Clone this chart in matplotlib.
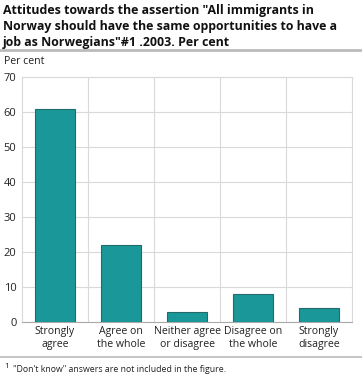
import matplotlib
matplotlib.use('Agg')
import matplotlib.pyplot as plt
from matplotlib.lines import Line2D

categories = ['Strongly\nagree', 'Agree on\nthe whole', 'Neither agree\nor disagree',
              'Disagree on\nthe whole', 'Strongly\ndisagree']
values = [61, 22, 3, 8, 4]
yticks = [0, 10, 20, 30, 40, 50, 60, 70]

plt.rcParams['font.family'] = ['Open Sans', 'DejaVu Sans']

W, H = 362, 378
fig = plt.figure(figsize=(W / 100, H / 100), dpi=100)
ax = fig.add_axes([22 / W, 1 - 322 / H, 330 / W, 245 / H])

x = range(len(values))
ax.bar(x, values, width=0.6, color='#1a9899', edgecolor='#236b6b', linewidth=0.8, zorder=3)

ax.set_xlim(-0.5, len(values) - 0.5)
ax.set_ylim(0, 70)
ax.set_yticks(yticks)
ax.set_xticks(list(x))
ax.set_xticklabels(categories, fontsize=7.6, color='#222222', linespacing=1.25)
ax.tick_params(axis='y', labelsize=8, colors='#222222', length=0, pad=4)
ax.tick_params(axis='x', length=0, pad=3)

ax.grid(axis='y', color='#d9d9d9', linewidth=0.8, zorder=0)
for i in range(1, len(values)):
    ax.axvline(i - 0.5, color='#d9d9d9', linewidth=0.8, zorder=0)
for side in ['top', 'right']:
    ax.spines[side].set_color('#d9d9d9')
    ax.spines[side].set_linewidth(0.8)
ax.spines['left'].set_color('#d9d9d9')
ax.spines['bottom'].set_color('#aaaaaa')

fig.text(3 / W, 1 - 4 / H,
         'Attitudes towards the assertion "All immigrants in\n'
         'Norway should have the same opportunities to have a\n'
         'job as Norwegians"#1 .2003. Per cent',
         fontsize=8.9, fontweight='bold', va='top', ha='left', color='#111111', linespacing=1.3)
fig.add_artist(Line2D([0, 1], [1 - 49.5 / H] * 2, color='#bbbbbb', linewidth=2))
fig.text(4 / W, 1 - 62 / H, 'Per cent', fontsize=7.6, va='center', ha='left', color='#222222')

fig.add_artist(Line2D([0, 1], [1 - 357 / H] * 2, color='#bbbbbb', linewidth=1.2))
fig.text(4 / W, 1 - 366 / H, '1', fontsize=6, va='center', ha='left', color='#222222')
fig.text(13 / W, 1 - 370 / H, '"Don\'t know" answers are not included in the figure.',
         fontsize=6.3, va='center', ha='left', color='#222222')

fig.savefig('out.png', dpi=100)
